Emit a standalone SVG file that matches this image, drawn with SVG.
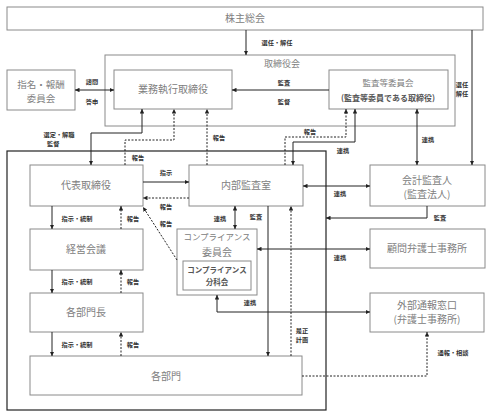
<svg xmlns="http://www.w3.org/2000/svg" width="493" height="412" viewBox="0 0 493 412">
<defs>
<marker id="ah" viewBox="0 0 6 6" refX="6" refY="3" markerWidth="4.5" markerHeight="4.5" orient="auto-start-reverse" markerUnits="userSpaceOnUse">
<path d="M0,0 L6,3 L0,6 z" fill="#222"/>
</marker>
<style>
.box{fill:#fff;stroke:#8a8a8a;stroke-width:1}
.frame{fill:none;stroke:#222;stroke-width:1.2}
.t{font-family:"Noto Sans CJK JP","Noto Sans",sans-serif;fill:#808080;text-anchor:middle;font-size:10px}
.td{font-family:"Noto Sans CJK JP","Noto Sans",sans-serif;fill:#555;text-anchor:middle;font-size:7.5px;font-weight:bold}
.l{font-family:"Noto Sans CJK JP","Noto Sans",sans-serif;fill:#333;text-anchor:middle;font-size:6.2px;font-weight:bold}
.c{fill:none;stroke:#222;stroke-width:1}
.d{fill:none;stroke:#222;stroke-width:1;stroke-dasharray:2 1.5}
.e{marker-end:url(#ah)}
.b{marker-start:url(#ah);marker-end:url(#ah)}
</style>
</defs>
<rect width="493" height="412" fill="#fff"/>

<g id="shareholders"><rect class="box" x="7" y="7" width="476" height="23"/><text class="t" x="245" y="22">株主総会</text></g>
<g id="board"><rect class="box" x="105" y="55" width="350" height="71"/><text class="t" x="282" y="67" style="font-size:9px">取締役会</text></g>
<g id="nomination"><rect class="box" x="7" y="70" width="68" height="40"/><text class="t" x="41" y="88" style="font-size:9.5px">指名・報酬</text><text class="t" x="41" y="102" style="font-size:9.5px">委員会</text></g>
<g id="executive"><rect class="box" x="114" y="70" width="118" height="39"/><text class="t" x="173" y="93">業務執行取締役</text></g>
<g id="auditcommittee"><rect class="box" x="329" y="70" width="119" height="39"/><text class="t" x="388" y="86" style="font-size:8.5px">監査等委員会</text><text class="td" x="388" y="101" style="font-size:8px">(監査等委員である取締役)</text></g>

<g id="company"><rect class="frame" x="7" y="151" width="319" height="259"/></g>
<g id="president"><rect class="box" x="30" y="165" width="113" height="41"/><text class="t" x="86" y="189">代表取締役</text></g>
<g id="internalaudit"><rect class="box" x="189" y="165" width="114" height="41"/><text class="t" x="246" y="189">内部監査室</text></g>
<g id="accountingauditor"><rect class="box" x="370" y="165" width="115" height="41"/><text class="t" x="427" y="184">会計監査人</text><text class="t" x="427" y="198">(監査法人)</text></g>
<g id="management"><rect class="box" x="30" y="229" width="113" height="41"/><text class="t" x="86" y="253">経営会議</text></g>
<g id="compliance"><rect class="box" x="177" y="229" width="80" height="66"/><text class="t" x="217" y="240" style="font-size:8.5px">コンプライアンス</text><text class="t" x="217" y="256">委員会</text>
<g id="subcommittee"><rect class="box" x="183" y="261" width="68" height="29"/><text class="td" x="217" y="273">コンプライアンス</text><text class="td" x="217" y="285">分科会</text></g></g>
<g id="counsel"><rect class="box" x="370" y="229" width="115" height="39"/><text class="t" x="427" y="252">顧問弁護士事務所</text></g>
<g id="depthead"><rect class="box" x="30" y="293" width="113" height="39"/><text class="t" x="86" y="316">各部門長</text></g>
<g id="whistle"><rect class="box" x="370" y="293" width="114" height="39"/><text class="t" x="427" y="309">外部通報窓口</text><text class="t" x="427" y="323">(弁護士事務所)</text></g>
<g id="departments"><rect class="box" x="30" y="356" width="272" height="39"/><text class="t" x="166" y="380">各部門</text></g>

<g id="connectors">
<path class="c e" d="M246,30 V55"/>
<path class="c e" d="M472,30 V165"/>
<path class="c b" d="M75,90 H114"/>
<path class="c e" d="M329,90 H232"/>
<path class="c b" d="M142,109 V133 H91 V165"/>
<path class="d e" d="M125,165 V140 H174 V109"/>
<path class="d e" d="M207,165 V109"/>
<path class="d e" d="M285,165 V137 H346 V109"/>
<path class="c b" d="M293,165 V142 H355 V109"/>
<path class="c b" d="M417,109 V165"/>
<path class="c e" d="M143,182 H189"/>
<path class="d e" d="M189,198 H143"/>
<path class="d e" d="M177,260 L143,207"/>
<path class="c b" d="M303,186 H370"/>
<path class="c e" d="M427,206 V218 H326"/>
<path class="c e" d="M52,206 V229"/>
<path class="d e" d="M121,229 V206"/>
<path class="c b" d="M235,206 V229"/>
<path class="c e" d="M268,206 V356"/>
<path class="d e" d="M291,356 V206"/>
<path class="c b" d="M257,249 H370"/>
<path class="c e" d="M52,270 V293"/>
<path class="d e" d="M121,293 V270"/>
<path class="c b" d="M217,295 V312 H370"/>
<path class="c e" d="M52,332 V356"/>
<path class="d e" d="M121,356 V332"/>
<path class="d e" d="M302,376 H427 V332"/>
</g>

<g id="labels">
<text class="l" x="277" y="45">選任・解任</text>
<text class="l" x="462" y="87">選任</text>
<text class="l" x="462" y="96">解任</text>
<text class="l" x="92" y="84">諮問</text>
<text class="l" x="92" y="104">答申</text>
<text class="l" x="284" y="85">監査</text>
<text class="l" x="284" y="104">監督</text>
<text class="l" x="59" y="137">選定・解職</text>
<text class="l" x="47" y="146" style="text-anchor:start">監督</text>
<text class="l" x="138" y="160">報告</text>
<text class="l" x="219" y="140">報告</text>
<text class="l" x="310" y="134">報告</text>
<text class="l" x="343" y="153">連携</text>
<text class="l" x="428" y="142">連携</text>
<text class="l" x="166" y="175">指示</text>
<text class="l" x="166" y="209">報告</text>
<text class="l" x="166" y="226">報告</text>
<text class="l" x="340" y="196">連携</text>
<text class="l" x="440" y="220">監査</text>
<text class="l" x="77" y="221">指示・統制</text>
<text class="l" x="133" y="221">報告</text>
<text class="l" x="220" y="221">連携</text>
<text class="l" x="256" y="219">監査</text>
<text class="l" x="340" y="260">連携</text>
<text class="l" x="77" y="284">指示・統制</text>
<text class="l" x="133" y="284">報告</text>
<text class="l" x="250" y="305">連携</text>
<text class="l" x="302" y="333">是正</text>
<text class="l" x="302" y="342">計画</text>
<text class="l" x="77" y="347">指示・統制</text>
<text class="l" x="133" y="347">報告</text>
<text class="l" x="453" y="355">通報・相談</text>
</g>
</svg>
